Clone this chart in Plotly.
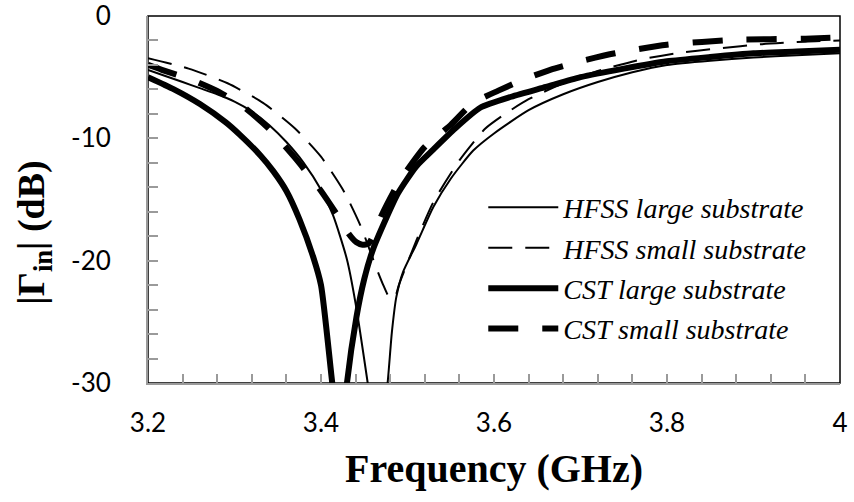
import plotly.graph_objects as go

# ---------------- data ----------------
hfss_large_f = [3.20, 3.22, 3.24, 3.26, 3.28, 3.30, 3.32, 3.34, 3.36, 3.38, 3.40, 3.414, 3.43, 3.44,
                3.454, 3.462, 3.470, 3.477, 3.482, 3.487, 3.495, 3.51, 3.53, 3.55, 3.576, 3.60,
                3.64, 3.68, 3.72, 3.76, 3.80, 3.85, 3.90, 3.95, 4.00]
hfss_large_db = [-4.4, -4.9, -5.4, -5.9, -6.4, -7.0, -7.8, -8.9, -10.3, -12.0, -14.2, -16.3, -19.9, -23.5,
                 -30.0, -34.0, -34.0, -30.0, -25.8, -23.0, -20.9, -18.7, -15.6, -13.3, -11.0, -9.6,
                 -7.7, -6.4, -5.4, -4.6, -4.0, -3.65, -3.4, -3.2, -3.05]

hfss_small_f = [3.20, 3.247, 3.292, 3.333, 3.37, 3.40, 3.427, 3.446, 3.464, 3.472, 3.478, 3.482, 3.486,
                3.49, 3.51, 3.53, 3.56, 3.59, 3.615, 3.64, 3.68, 3.72, 3.77, 3.81, 3.86, 3.91, 3.96, 4.00]
hfss_small_db = [-3.45, -4.3, -5.5, -7.1, -9.2, -11.5, -14.4, -17.2, -20.6, -22.0, -22.9, -23.1, -22.9,
                 -22.0, -18.4, -15.2, -11.8, -9.2, -7.9, -6.8, -5.5, -4.5, -3.55, -3.05, -2.65, -2.3, -2.1, -2.0]

cst_large_f = [3.20, 3.23, 3.26, 3.29, 3.306, 3.33, 3.345, 3.36, 3.375, 3.391, 3.40, 3.413, 3.42, 3.425,
               3.430, 3.441, 3.45, 3.46, 3.475, 3.489, 3.51, 3.53, 3.555, 3.584, 3.62, 3.66, 3.70,
               3.75, 3.80, 3.85, 3.90, 3.95, 4.00]
cst_large_db = [-5.0, -6.0, -7.2, -8.7, -9.7, -11.4, -12.7, -14.3, -16.6, -19.7, -22.0, -30.0, -34.0, -34.0,
                -30.0, -24.6, -21.5, -19.1, -16.6, -14.5, -12.3, -10.9, -9.2, -7.5, -6.6, -5.8, -5.0,
                -4.3, -3.7, -3.35, -3.05, -2.9, -2.75]

cst_small_f = [3.20, 3.216, 3.25, 3.282, 3.31, 3.341, 3.37, 3.398, 3.42, 3.432, 3.441, 3.448, 3.455, 3.46,
               3.47, 3.49, 3.52, 3.55, 3.576, 3.605, 3.634, 3.665, 3.70, 3.74, 3.80, 3.88, 3.96, 4.00]
cst_small_db = [-4.0, -4.4, -5.2, -6.2, -7.4, -9.3, -11.6, -14.1, -16.4, -17.8, -18.5, -18.7, -18.6, -18.0,
                -16.3, -13.6, -10.7, -8.9, -7.1, -6.1, -5.2, -4.4, -3.7, -3.05, -2.35, -1.95, -1.85, -1.75]

series_names = ["HFSS large substrate", "HFSS small substrate", "CST large substrate", "CST small substrate"]

x_tickvals = [3.2, 3.4, 3.6, 3.8, 4.0]
x_ticktext = ["3.2", "3.4", "3.6", "3.8", "4"]
y_tickvals = [0, -10, -20, -30]
y_ticktext = ["0", "-10", "-20", "-30"]

# ---------------- figure ----------------
fig = go.Figure()
styles = [
    dict(width=2, dash="solid"),
    dict(width=2, dash="24px,13px"),
    dict(width=6, dash="solid"),
    dict(width=6, dash="30px,24px"),
]
data = [(hfss_large_f, hfss_large_db), (hfss_small_f, hfss_small_db),
        (cst_large_f, cst_large_db), (cst_small_f, cst_small_db)]
for i, ((fx, fy), name, st) in enumerate(zip(data, series_names, styles)):
    fig.add_trace(go.Scatter(x=fx, y=fy, mode="lines", name=name, legendgroup=f"g{i}",
                             line=dict(color="black", width=st["width"], dash=st["dash"],
                                       shape="spline", smoothing=0.6)))

axis_gray = "#9a9a9a"
fig.update_layout(
    width=854, height=502,
    margin=dict(l=148, r=14, t=16, b=119),
    plot_bgcolor="white", paper_bgcolor="white",
    showlegend=True,
    legend=dict(
        x=0.4845, y=0.313, xanchor="left", yanchor="middle",
        bgcolor="rgba(0,0,0,0)", borderwidth=0,
        font=dict(family="Liberation Serif", size=28, style="italic", color="black"),
        itemwidth=70, traceorder="grouped", tracegroupgap=1,
    ),
    xaxis=dict(
        range=[3.2, 4.0], tickvals=x_tickvals, ticktext=x_ticktext,
        showgrid=False, zeroline=False, automargin=False,
        showline=True, linecolor=axis_gray, linewidth=2,
        ticks="inside", ticklen=9, tickwidth=1.5, tickcolor=axis_gray,
        minor=dict(dtick=0.04, ticks="inside", ticklen=9, tickwidth=1.5, tickcolor=axis_gray, showgrid=False),
        tickfont=dict(family="Lato", size=26, color="black"),
        ticklabelstandoff=16, ticklabeloverflow="allow",
        title=dict(text="Frequency (GHz)", standoff=17,
                   font=dict(family="Liberation Serif", size=40, weight="bold", color="black")),
    ),
    yaxis=dict(
        range=[-30, 0], tickvals=y_tickvals, ticktext=y_ticktext,
        showgrid=False, zeroline=False, automargin=False,
        showline=True, linecolor=axis_gray, linewidth=2,
        ticks="inside", ticklen=10, tickwidth=1.5, tickcolor=axis_gray,
        minor=dict(dtick=2, ticks="inside", ticklen=10, tickwidth=1.5, tickcolor=axis_gray, showgrid=False),
        tickfont=dict(family="Lato", size=26, color="black"),
        ticklabelstandoff=30, ticklabeloverflow="allow",
    ),
    shapes=[dict(type="rect", xref="x domain", yref="y domain", x0=0, x1=1, y0=0, y1=1,
                 line=dict(color="black", width=1.5), layer="below")],
    annotations=[dict(
        text="|Γ<sub>in</sub>| (dB)", textangle=-90, xref="paper", yref="paper",
        x=-0.166, y=0.41, xanchor="center", yanchor="middle", showarrow=False,
        font=dict(family="Liberation Serif", size=38, weight="bold", color="black"))],
)

fig.write_html("out.html")
